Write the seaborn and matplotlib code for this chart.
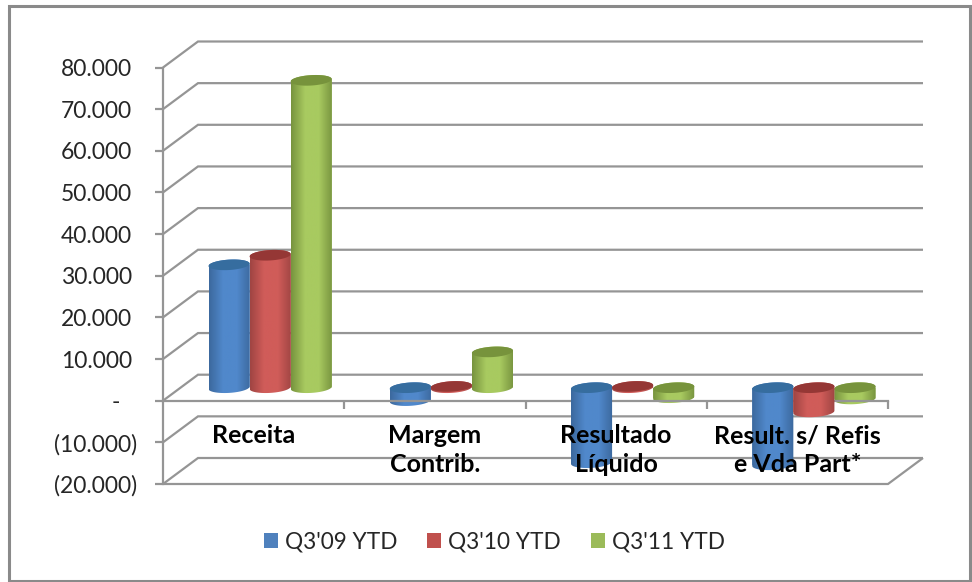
import numpy as np
import pandas as pd
import matplotlib
matplotlib.use("Agg")
import matplotlib.pyplot as plt
from matplotlib.colors import LinearSegmentedColormap
from matplotlib.patches import Polygon, Rectangle
from matplotlib.transforms import ScaledTranslation
import seaborn as sns

# ------------------------------------------------------------------
# DATA
# ------------------------------------------------------------------
CATEGORIES = ["Receita", "Margem\nContrib.", "Resultado\nLíquido", "Result. s/ Refis\ne Vda Part*"]
SERIES = ["Q3'09 YTD", "Q3'10 YTD", "Q3'11 YTD"]
Q3_09 = [29500, -3100, -18000, -18500]
Q3_10 = [31800, 300, 300, -5800]
Q3_11 = [73800, 8600, -2400, -2700]

Y_TICKS = [-20000, -10000, 0, 10000, 20000, 30000, 40000, 50000, 60000, 70000, 80000]
Y_LABELS = ["(20.000)", "(10.000)", "-", "10.000", "20.000", "30.000",
            "40.000", "50.000", "60.000", "70.000", "80.000"]

COLORS = {"Q3'09 YTD": "#4f81bd", "Q3'10 YTD": "#c0504d", "Q3'11 YTD": "#9bbb59"}
# edge / centre of the cylinder shading, and the colour of the top cap
SHADES = {
    "Q3'09 YTD": ("#3c699e", "#5088cb", "#366d9f"),
    "Q3'10 YTD": ("#a04543", "#d05c59", "#953735"),
    "Q3'11 YTD": ("#78943f", "#a8ca60", "#77933c"),
}

# ------------------------------------------------------------------
# LAYOUT (pixels of the 972x582 picture)
# ------------------------------------------------------------------
W, H = 972, 582
AX_LEFT, AX_RIGHT, AX_TOP, AX_BOTTOM = 163, 888, 67.5, 484
Y_MIN, Y_MAX = -20000, 80000
LINE_COLOR = "#959595"
LINE_W = 1.6

UNITS_PER_PX = (Y_MAX - Y_MIN) / (AX_BOTTOM - AX_TOP)
CAT_PER_PX = 4 / (AX_RIGHT - AX_LEFT)

DEPTH_X = 35 * CAT_PER_PX        # offset of the back wall
DEPTH_Y = 26 * UNITS_PER_PX
MID_X = 16.5 * CAT_PER_PX        # bars stand half way into the depth
MID_Y = 13 * UNITS_PER_PX
CAP_B = 5.2 * UNITS_PER_PX       # half height of the cap ellipse
CAP_TILT = 1.2 * UNITS_PER_PX    # right side of the cap sits a bit higher

sns.set_theme(style="white")
plt.rcParams["font.family"] = ["Lato", "DejaVu Sans"]

df = pd.DataFrame({
    "pos": np.tile(np.arange(len(CATEGORIES)) + MID_X, len(SERIES)),
    "serie": np.repeat(SERIES, len(CATEGORIES)),
    "valor": Q3_09 + Q3_10 + Q3_11,
})

fig = plt.figure(figsize=(W / 100, H / 100), dpi=100, facecolor="white")
ax = fig.add_axes([AX_LEFT / W, 1 - AX_BOTTOM / H,
                   (AX_RIGHT - AX_LEFT) / W, (AX_BOTTOM - AX_TOP) / H])
ax.patch.set_alpha(0)

sns.barplot(data=df, x="pos", y="valor", hue="serie", hue_order=SERIES, palette=COLORS,
            native_scale=True, width=0.68, gap=0, saturation=1,
            errorbar=None, linewidth=0, ax=ax)

ax.set_xlim(-0.5, 3.5)
ax.set_ylim(Y_MIN, Y_MAX)
ax.set_xlabel("")
ax.set_ylabel("")


# ------------------------------------------------------------------
# WALLS AND FLOOR
# ------------------------------------------------------------------
def wall_line(xs, ys):
    ax.plot(xs, ys, color=LINE_COLOR, lw=LINE_W, clip_on=False, zorder=1,
            solid_capstyle="butt", solid_joinstyle="miter")


for level in Y_TICKS:
    wall_line([-0.5, -0.5 + DEPTH_X, 3.5 + DEPTH_X],
              [level, level + DEPTH_Y, level + DEPTH_Y])
# front edge and right side of the lowest plane
wall_line([-0.5, 3.5, 3.5 + DEPTH_X], [Y_MIN, Y_MIN, Y_MIN + DEPTH_Y])


# ------------------------------------------------------------------
# CYLINDERS, built on the bars seaborn has drawn
# ------------------------------------------------------------------
def cap_xy(xc, yc, half_w, t):
    return xc + half_w * np.cos(t), yc + CAP_B * np.sin(t) + CAP_TILT * np.cos(t)


for serie_idx, (serie, container) in enumerate(zip(SERIES, ax.containers)):
    edge, centre, cap = SHADES[serie]
    cmap = LinearSegmentedColormap.from_list(serie, [edge, centre, centre, edge])
    gradient = np.linspace(0, 1, 64).reshape(1, -1)
    for bar in container:
        # lift the bar to the middle of the floor depth
        bar.set_y(bar.get_y() + MID_Y)
        x0, w = bar.get_x(), bar.get_width()
        y_low = min(bar.get_y(), bar.get_y() + bar.get_height())
        y_high = max(bar.get_y(), bar.get_y() + bar.get_height())
        xc = x0 + w / 2

        # long negative bars cover the zero line, the others stay behind it
        z = 2.2 if bar.get_height() < -5000 else 1.5
        z += serie_idx * 0.01

        t_low = np.linspace(np.pi, 2 * np.pi, 40)
        t_high = np.linspace(0, np.pi, 40)
        lx, ly = cap_xy(xc, y_low, w / 2, t_low)
        hx, hy = cap_xy(xc, y_high, w / 2, t_high)
        body = Polygon(np.column_stack([np.r_[lx, hx], np.r_[ly, hy]]), closed=True,
                       transform=ax.transData, facecolor="none", edgecolor="none")
        ax.add_patch(body)
        body.set_clip_on(False)

        bar.set_clip_path(body)
        bar.set_zorder(z)
        img = ax.imshow(gradient, cmap=cmap, aspect="auto", zorder=z,
                        extent=[x0, x0 + w, y_low - 2 * CAP_B, y_high + 2 * CAP_B])
        img.set_clip_path(body)

        t = np.linspace(0, 2 * np.pi, 80)
        cx, cy = cap_xy(xc, y_high, w / 2, t)
        ax.fill(cx, cy, color=cap, lw=0, zorder=z + 0.001, clip_on=False)

ax.set_xlim(-0.5, 3.5)
ax.set_ylim(Y_MIN, Y_MAX)

# ------------------------------------------------------------------
# AXES
# ------------------------------------------------------------------
for side in ["top", "right"]:
    ax.spines[side].set_visible(False)
ax.spines["bottom"].set_position(("data", 0))
for side in ["left", "bottom"]:
    ax.spines[side].set_color(LINE_COLOR)
    ax.spines[side].set_linewidth(LINE_W)
    ax.spines[side].set_zorder(2.0)
ax.set_axisbelow(False)

ax.set_yticks(Y_TICKS)
ax.set_yticklabels(Y_LABELS)
ax.tick_params(axis="y", direction="out", length=5.8, width=LINE_W, color=LINE_COLOR,
               labelsize=16.5, labelcolor="#262626", pad=13, left=True)
# accounting format: plain numbers leave room for the closing parenthesis
for label, value in zip(ax.get_yticklabels(), Y_TICKS):
    shift = 17 if value == 0 else (0 if value < 0 else 5)
    label.set_transform(label.get_transform()
                        + ScaledTranslation(-shift / 100, 0, fig.dpi_scale_trans))

ax.set_xticks(range(len(CATEGORIES)))
ax.set_xticklabels(CATEGORIES, fontweight="bold", linespacing=1.3)
ax.set_xticks(np.arange(len(CATEGORIES)) + 0.5, minor=True)
ax.tick_params(axis="x", which="major", length=0, labelsize=18, labelcolor="black",
               pad=17, bottom=True)
ax.tick_params(axis="x", which="minor", direction="out", length=5.8, width=LINE_W,
               color=LINE_COLOR, bottom=True)

# ------------------------------------------------------------------
# LEGEND AND CHART BORDER
# ------------------------------------------------------------------
sns.move_legend(ax, "center", bbox_to_anchor=(494.5 / W, 1 - 542 / H),
                bbox_transform=fig.transFigure, ncol=3, frameon=False, title=None,
                fontsize=16.3, labelcolor="#262626", handlelength=0.62, handleheight=0.62,
                handletextpad=0.3, columnspacing=1.32, borderpad=0, borderaxespad=0)

fig.add_artist(Rectangle((8.5 / W, 1 - 581 / H), (969.5 - 8.5) / W, (581 - 5.5) / H,
                         transform=fig.transFigure, fill=False,
                         edgecolor="#8a8a8a", linewidth=2.2))

fig.savefig("out.png", dpi=100)
plt.close(fig)
